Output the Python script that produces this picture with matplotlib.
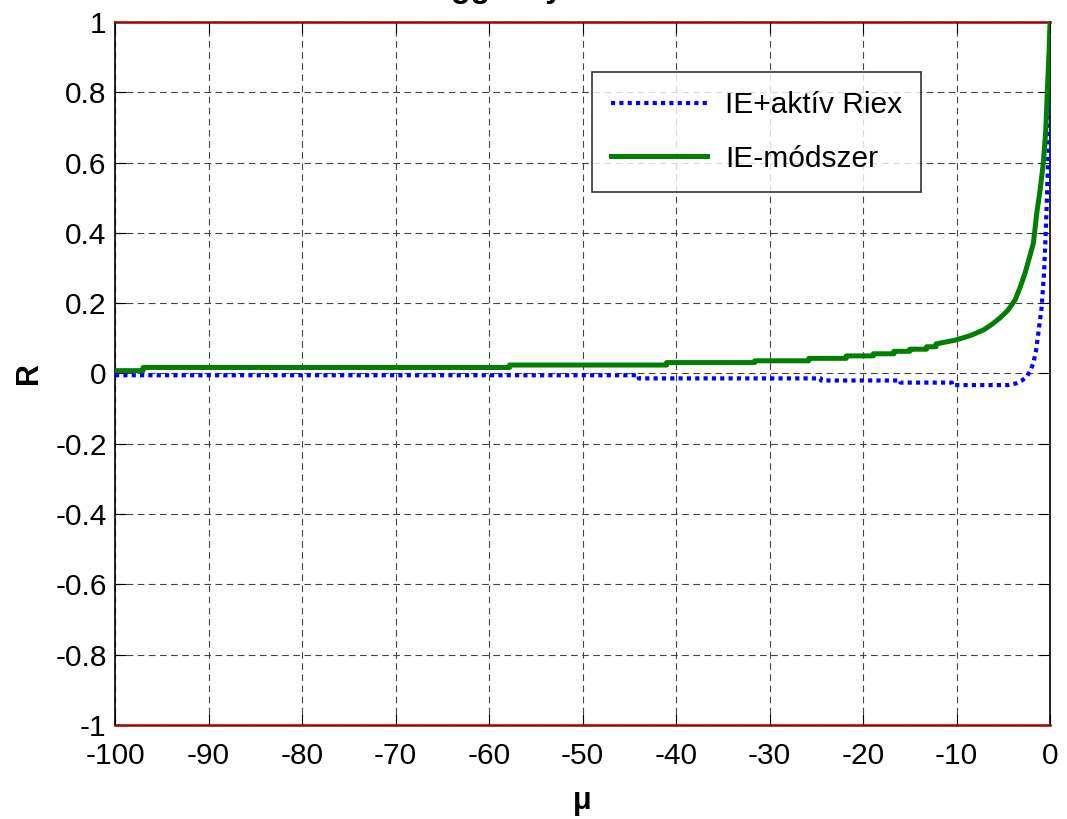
import numpy as np
import matplotlib
matplotlib.use("Agg")
import matplotlib.pyplot as plt

plt.rcParams['font.family'] = ['Liberation Sans', 'DejaVu Sans']

# IE-módszer (lépcsős görbe)
mu_ie = [-100, -97, -97, -57.8, -57.8, -41, -41, -31.6, -31.6, -25.8, -25.8, -21.8,
         -21.8, -18.9, -18.9, -16.7, -16.7, -15, -15, -13.2, -13.2, -12.2, -12.2,
         -10.1, -8.5, -7.1, -6.2, -5.35, -4.5, -3.74, -3.2, -2.67, -2.2, -1.78,
         -1.42, -1.07, -0.71, -0.46, -0.28, -0.1, 0]
r_ie = [0.008, 0.008, 0.017, 0.017, 0.024, 0.024, 0.031, 0.031, 0.036, 0.036, 0.043,
        0.043, 0.050, 0.050, 0.056, 0.056, 0.063, 0.063, 0.069, 0.069, 0.076, 0.076,
        0.084, 0.095, 0.108, 0.124, 0.140, 0.158, 0.180, 0.209, 0.245, 0.286, 0.330,
        0.371, 0.456, 0.52, 0.60, 0.69, 0.81, 0.92, 1.0]

# IE + aktív Riex
mu_riex = [-100, -44, -44, -24.5, -24.5, -16, -16, -10.5, -10.5, -4.5, -3.6, -3.0,
           -2.5, -2.1, -1.78, -1.5, -1.25, -0.89, -0.64, -0.46, -0.28, -0.1, 0]
r_riex = [-0.005, -0.005, -0.014, -0.014, -0.020, -0.020, -0.026, -0.026, -0.033,
          -0.033, -0.028, -0.020, -0.009, 0.008, 0.030, 0.065, 0.115, 0.19, 0.286,
          0.40, 0.54, 0.68, 0.80]

x_ticks = np.arange(-100, 1, 10)
y_ticks = np.round(np.arange(-1, 1.01, 0.2), 1)


def fmt(v):
    s = f'{v:g}'
    return '0' if s == '-0' else s


fig = plt.figure(figsize=(10.67, 8.19), dpi=100)
ax = fig.add_axes([0.1078, 0.1148, 0.8763, 0.8584])

ax.plot(mu_riex, r_riex, color='#0000ff', lw=3, linestyle=(0, (1, 1)),
        dash_capstyle='butt', label='IE+aktív Riex', zorder=3)
ax.plot(mu_ie, r_ie, color='#007f00', lw=3.6, label='IE-módszer', zorder=4)

ax.set_xlim(-100, 0)
ax.set_ylim(-1, 1)
ax.set_xticks(x_ticks)
ax.set_xticklabels([fmt(v) for v in x_ticks])
ax.set_yticks(y_ticks)
ax.set_yticklabels([fmt(v) for v in y_ticks])
ax.tick_params(direction='in', length=8, width=0.8, top=True, right=True,
               labelsize=21.5)
ax.tick_params(axis='x', pad=12)
ax.tick_params(axis='y', pad=6)
ax.grid(True, color='#444444', lw=0.8, linestyle=(0, (6, 4)))
for s in ax.spines.values():
    s.set_linewidth(1.2)
# felső és alsó határvonal sötétpirosan
ax.spines['top'].set_color('#a00000')
ax.spines['bottom'].set_color('#a00000')
ax.spines['top'].set_linewidth(1.8)
ax.spines['bottom'].set_linewidth(1.8)

ax.set_xlabel('μ', fontsize=22, fontweight='bold', labelpad=12)
ax.set_ylabel('R', fontsize=22, fontweight='bold', labelpad=8)

leg = ax.legend(loc='upper left', bbox_to_anchor=(0.510, 0.929), fontsize=21.5,
                frameon=True, fancybox=False, edgecolor='black', handlelength=3.2,
                borderpad=0.65, labelspacing=0.85, handletextpad=0.6,
                borderaxespad=0)
leg.get_frame().set_linewidth(1.2)

fig.text(413 / 1067, 1 + 3.5 / 819, 'Függvény', fontsize=23, fontweight='bold',
         ha='left', va='baseline')

fig.savefig('out.png', dpi=100)
